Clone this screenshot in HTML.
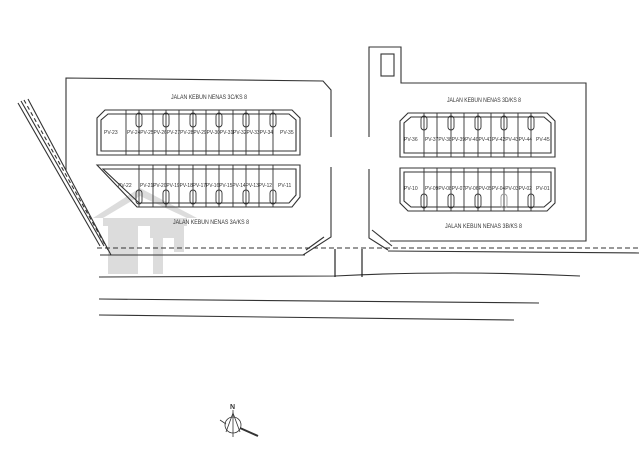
<!DOCTYPE html>
<html><head><meta charset="utf-8"><style>
html,body{margin:0;padding:0;background:#fff;width:639px;height:450px;overflow:hidden}
svg text{font-family:"Liberation Sans",sans-serif;fill:#333}
</style></head><body>
<svg width="639" height="450" viewBox="0 0 639 450" xmlns="http://www.w3.org/2000/svg">
<!-- watermark -->
<g fill="#dcdcdc">
<polygon points="93,218 140,188 197,218 187,218 140,196 103,218"/>
<rect x="103" y="218" width="84" height="8"/>
<rect x="108" y="226" width="30" height="48"/>
<rect x="150" y="226" width="34" height="12"/>
<rect x="153" y="238" width="10" height="36"/>
<rect x="174" y="238" width="10" height="14"/>
</g>
<g fill="none" stroke="#333" stroke-width="1.1">
<!-- diagonal road -->
<line x1="18" y1="103" x2="100" y2="246"/>
<line x1="21" y1="101" x2="104" y2="246"/>
<line x1="24" y1="100" x2="108" y2="250" stroke-dasharray="4,3"/>
<line x1="28" y1="99" x2="111" y2="255"/>
<!-- left block -->
<polyline points="66,170 66,78 323,81 331,90 331,137"/>
<polyline points="331,167 331,237 303,255"/>
<line x1="324" y1="237" x2="306" y2="250"/>
<!-- right block -->
<polyline points="369,137 369,47 401,47 401,83 586,83 586,241 390,241"/>
<rect x="381" y="54" width="13" height="22"/>
<polyline points="369,169 369,238 388,250"/>
<line x1="372" y1="230" x2="392" y2="246"/>
<!-- road lines -->
<line x1="97" y1="248" x2="639" y2="248" stroke-dasharray="5,3"/>
<line x1="100" y1="255" x2="305" y2="255"/>
<line x1="388" y1="251" x2="639" y2="253"/>
<path d="M99,277 L335,276 Q450,270 580,276"/>
<line x1="99" y1="299" x2="539" y2="303"/>
<line x1="99" y1="315" x2="514" y2="320"/>
<line x1="335" y1="249" x2="335" y2="277" stroke="#111"/>
<line x1="362" y1="249" x2="362" y2="277" stroke="#111"/>
<!-- left upper parking -->
<polygon points="105,110 292,110 300,118 300,155 97,155 97,118"/>
<polygon points="108,114 289,114 296,120 296,151 101,151 101,120"/>
<!-- left lower parking -->
<polygon points="97,165 300,165 300,197 292,207 137,207"/>
<polygon points="103,169 296,169 296,195 289,203 139,203"/>
<!-- right upper -->
<polygon points="408,113 547,113 555,121 555,157 400,157 400,121"/>
<polygon points="411,117 544,117 551,123 551,153 404,153 404,123"/>
<!-- right lower -->
<polygon points="400,168 555,168 555,203 547,211 408,211 400,203"/>
<polygon points="404,172 551,172 551,201 544,207 411,207 404,201"/>
</g>
<g stroke="#333" stroke-width="0.9" fill="none">
<!-- left upper dividers -->
<path d="M126,110V155M139,110V155M153,110V155M166,110V155M179,110V155M193,110V155M206,110V155M219,110V155M233,110V155M246,110V155M259,110V155M273,110V155"/>
<rect x="136" y="113" width="6" height="14" rx="3"/><rect x="163" y="113" width="6" height="14" rx="3"/><rect x="190" y="113" width="6" height="14" rx="3"/><rect x="216" y="113" width="6" height="14" rx="3"/><rect x="243" y="113" width="6" height="14" rx="3"/><rect x="270" y="113" width="6" height="14" rx="3"/>
<!-- left lower dividers -->
<path d="M139,165V207M153,165V207M166,165V207M179,165V207M193,165V207M206,165V207M219,165V207M233,165V207M246,165V207M259,165V207M273,165V207"/>
<rect x="136" y="190" width="6" height="14" rx="3"/><rect x="163" y="190" width="6" height="14" rx="3"/><rect x="190" y="190" width="6" height="14" rx="3"/><rect x="216" y="190" width="6" height="14" rx="3"/><rect x="243" y="190" width="6" height="14" rx="3"/><rect x="270" y="190" width="6" height="14" rx="3"/>
<!-- right dividers -->
<path d="M424,113V157M437,113V157M451,113V157M464,113V157M478,113V157M491,113V157M504,113V157M518,113V157M531,113V157"/>
<path d="M424,168V211M437,168V211M451,168V211M464,168V211M478,168V211M491,168V211M504,168V211M518,168V211M531,168V211"/>
<rect x="421" y="116" width="6" height="14" rx="3"/><rect x="448" y="116" width="6" height="14" rx="3"/><rect x="475" y="116" width="6" height="14" rx="3"/><rect x="501" y="116" width="6" height="14" rx="3"/><rect x="528" y="116" width="6" height="14" rx="3"/>
<rect x="421" y="194" width="6" height="14" rx="3"/><rect x="448" y="194" width="6" height="14" rx="3"/><rect x="475" y="194" width="6" height="14" rx="3"/><rect x="501" y="194" width="6" height="14" rx="3" stroke="#999"/><rect x="528" y="194" width="6" height="14" rx="3"/>
</g>
<g font-size="5">
<text x="104" y="134">PV-23</text>
<text x="127" y="134" textLength="146" lengthAdjust="spacingAndGlyphs">PV-24PV-25PV-26PV-27PV-28PV-29PV-30PV-31PV-32PV-33PV-34</text>
<text x="280" y="134">PV-35</text>
<text x="118" y="187">PV-22</text>
<text x="140" y="187" textLength="132" lengthAdjust="spacingAndGlyphs">PV-21PV-20PV-19PV-18PV-17PV-16PV-15PV-14PV-13PV-12</text>
<text x="278" y="187">PV-11</text>
<text x="404" y="141">PV-36</text>
<text x="425" y="141" textLength="107" lengthAdjust="spacingAndGlyphs">PV-37PV-38PV-39PV-40PV-41PV-42PV-43PV-44</text>
<text x="536" y="141">PV-45</text>
<text x="404" y="190">PV-10</text>
<text x="425" y="190" textLength="107" lengthAdjust="spacingAndGlyphs">PV-09PV-08PV-07PV-06PV-05PV-04PV-03PV-02</text>
<text x="536" y="190">PV-01</text>
</g>
<g font-size="6">
<text x="171" y="99" textLength="76" lengthAdjust="spacingAndGlyphs">JALAN KEBUN NENAS 3C/KS 8</text>
<text x="173" y="224" textLength="76" lengthAdjust="spacingAndGlyphs">JALAN KEBUN NENAS 3A/KS 8</text>
<text x="447" y="102" textLength="74" lengthAdjust="spacingAndGlyphs">JALAN KEBUN NENAS 3D/KS 8</text>
<text x="445" y="228" textLength="77" lengthAdjust="spacingAndGlyphs">JALAN KEBUN NENAS 3B/KS 8</text>
</g>
<!-- compass -->
<g stroke="#333" fill="none" stroke-width="0.8">
<circle cx="233" cy="425" r="8"/>
<line x1="233" y1="410" x2="233" y2="437"/>
<polyline points="226,432 233,413 240,432"/>
<line x1="240" y1="428" x2="258" y2="436" stroke-width="2"/>
<line x1="220" y1="420" x2="226" y2="424"/>
</g>
<text x="230" y="409" font-size="7" font-weight="bold">N</text>
</svg>
</body></html>
